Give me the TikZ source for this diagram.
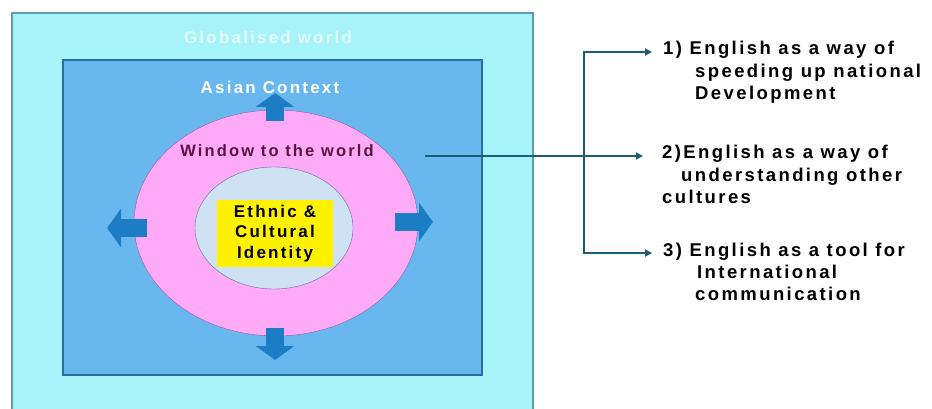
\documentclass[tikz,border=0pt]{standalone}
\usepackage{fontspec}
\setmainfont{Liberation Sans}
\newfontfamily\diagfont[LetterSpace=13]{Liberation Sans}
\usetikzlibrary{arrows.meta,positioning}

\definecolor{globecyan}{HTML}{A6F4FA}
\definecolor{globeedge}{HTML}{5E9FAE}
\definecolor{globetext}{HTML}{E2FAFC}
\definecolor{asiablue}{HTML}{68B8EF}
\definecolor{asiaedge}{HTML}{2470A6}
\definecolor{windowpink}{HTML}{FFAAF6}
\definecolor{windowedge}{HTML}{8E5CA8}
\definecolor{windowtext}{HTML}{5A1244}
\definecolor{corepale}{HTML}{CFE2F4}
\definecolor{coreedge}{HTML}{5F6A9E}
\definecolor{pushblue}{HTML}{1C7DC5}
\definecolor{linkteal}{HTML}{1D5D72}

\tikzset{
  push/.style={line width=18pt, pushblue, -{Triangle[width=38pt,length=14pt]}},
  link/.style={linkteal, line width=1.8pt, -{Triangle[width=7pt,length=7pt]}},
  item/.style={inner sep=0pt, text height=14pt, text depth=8pt, anchor=west,
    font=\diagfont\bfseries\fontsize{18.5}{22}\selectfont},
  worldtext/.style={inner sep=0pt, font=\diagfont\bfseries\fontsize{17}{20.5}\selectfont}
}

\begin{document}
\begin{tikzpicture}[x=1pt,y=-1pt]
  \useasboundingbox (0,0) rectangle (932,409);

  % the nested worlds
  \filldraw[fill=globecyan, draw=globeedge, line width=1.2pt] (12,13) rectangle (533,414);
  \filldraw[fill=asiablue, draw=asiaedge, line width=1.2pt] (63,60) rectangle (482,375);
  \filldraw[fill=windowpink, draw=windowedge] (276,223) ellipse [x radius=142, y radius=113];
  \filldraw[fill=corepale, draw=coreedge] (274,228) ellipse [x radius=79, y radius=61];

  \node[worldtext, text=globetext] (globe) at (268,37) {Globalised world};
  \node[worldtext, text=white] (asia) at (270,87) {Asian Context};
  \node[worldtext, text=windowtext, font=\diagfont\bfseries\fontsize{16.5}{20}\selectfont] (window) at (277,151) {Window to the world};
  \node[worldtext, fill=yellow, minimum width=116pt, minimum height=67pt, align=center] (core) at (275,233.5) {Ethnic \&\\Cultural\\Identity};

  % pushing outwards
  \draw[push] (275,121) -- (275,93);
  \draw[push] (147,228) -- (107,228);
  \draw[push] (395,222) -- (433,222);
  \draw[push] (275,328) -- (275,360);

  % the three roles
  \node[item] (one) at (663,52) {1) English as a way of};
  \node[item, below right=0pt and 32pt of one.south west] (oneb) {speeding up national};
  \node[item, below right=0pt and 0pt of oneb.south west] (onec) {Development};

  \node[item] (two) at (662,156) {2)English as a way of};
  \node[item, below right=0pt and 19pt of two.south west] (twob) {understanding other};
  \node[item, below right=0pt and 0pt of two.south west, yshift=-22pt] (twoc) {cultures};

  \node[item] (three) at (663,253) {3) English as a tool for};
  \node[item, below right=0pt and 34pt of three.south west] (threeb) {International};
  \node[item, below right=0pt and 32pt of three.south west, yshift=-22pt] (threec) {communication};

  \coordinate (hub) at (425,156);
  \coordinate (split) at (584,156);
  \draw[link, shorten >=19pt] (hub) -- (two);
  \draw[link, shorten >=11pt] (split) |- (one);
  \draw[link, shorten >=11pt] (split) |- (three);
\end{tikzpicture}
\end{document}
